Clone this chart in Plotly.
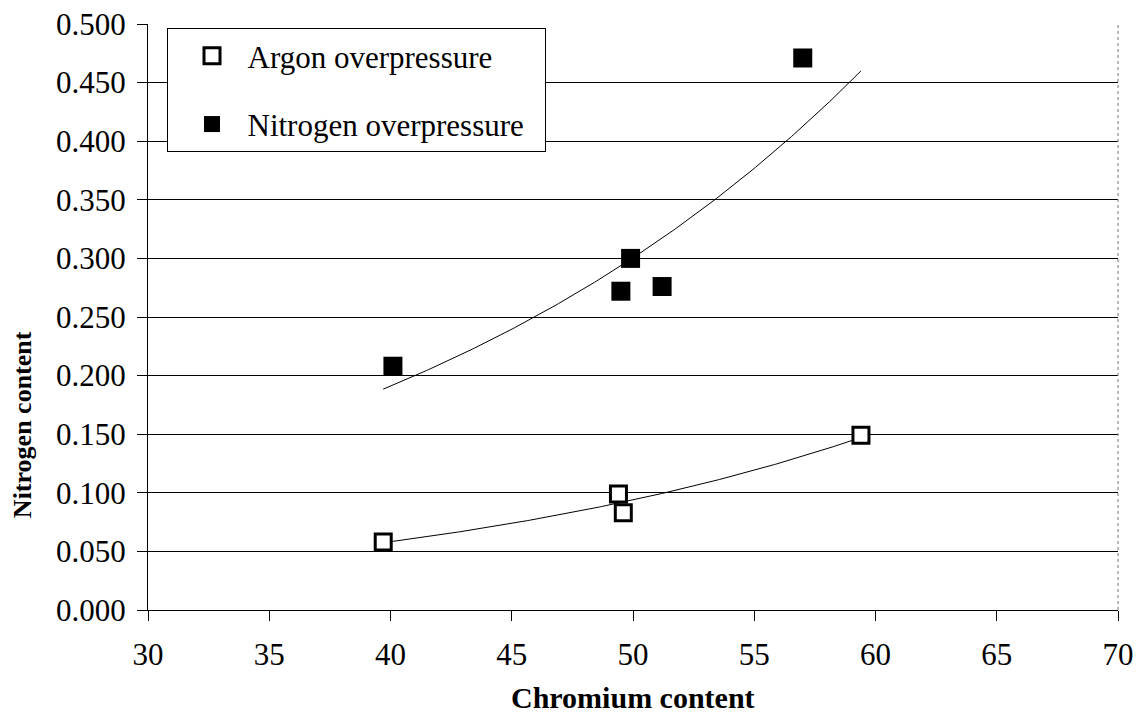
import numpy as np
import plotly.graph_objects as go

# Data
argon_cr = [39.7, 49.4, 49.6, 59.4]
argon_n = [0.058, 0.099, 0.083, 0.149]
nitro_cr = [40.1, 49.9, 49.5, 51.2, 57.0]
nitro_n = [0.208, 0.300, 0.272, 0.276, 0.471]

x_ticks = [30, 35, 40, 45, 50, 55, 60, 65, 70]
y_ticks = [round(0.05 * i, 3) for i in range(11)]

FONT = "Liberation Serif"

# Exponential trendlines (Excel-style), fitted to each series
all_x = argon_cr + nitro_cr
xs = np.linspace(min(all_x), max(all_x), 200)

def exp_fit(x, y, xe):
    b, ln_a = np.polyfit(np.array(x), np.log(np.array(y)), 1)
    return np.exp(ln_a + b * xe)

fig = go.Figure()
fig.add_trace(go.Scatter(x=xs, y=exp_fit(argon_cr, argon_n, xs), mode="lines",
                         line=dict(color="black", width=1), showlegend=False,
                         hoverinfo="skip"))
fig.add_trace(go.Scatter(x=xs, y=exp_fit(nitro_cr, nitro_n, xs), mode="lines",
                         line=dict(color="black", width=1), showlegend=False,
                         hoverinfo="skip"))
fig.add_trace(go.Scatter(x=argon_cr, y=argon_n, mode="markers",
                         name="\u2002Argon overpressure",
                         legendgroup="a",
                         marker=dict(symbol="square", size=16, color="white",
                                     line=dict(color="black", width=3))))
fig.add_trace(go.Scatter(x=nitro_cr, y=nitro_n, mode="markers",
                         name="\u2002Nitrogen overpressure\u2002",
                         legendgroup="n",
                         marker=dict(symbol="square", size=19, color="black",
                                     line=dict(color="black", width=0))))

fig.update_layout(
    width=1136, height=716,
    margin=dict(l=148, r=18, t=24, b=106, autoexpand=False),
    paper_bgcolor="white", plot_bgcolor="white",
    font=dict(family=FONT, color="black", size=31),
    legend=dict(x=0.0196, y=0.993, xanchor="left", yanchor="top",
                bordercolor="black", borderwidth=1, bgcolor="white",
                font=dict(family=FONT, size=31, color="black"),
                tracegroupgap=25, indentation=24),
    xaxis=dict(range=[30, 70], tickvals=x_ticks, ticktext=[str(v) for v in x_ticks],
               showgrid=False, zeroline=False, showline=True, linecolor="black",
               linewidth=1, ticks="outside", ticklen=10, tickcolor="black",
               ticklabelstandoff=7, automargin=False,
               tickfont=dict(family=FONT, size=31, color="black")),
    yaxis=dict(range=[0, 0.5], tickvals=y_ticks, ticktext=[f"{v:.3f}" for v in y_ticks],
               showgrid=True, gridcolor="black", gridwidth=1, zeroline=False,
               showline=True, linecolor="black", linewidth=1,
               ticks="outside", ticklen=10, tickcolor="black",
               ticklabelstandoff=5, automargin=False,
               tickfont=dict(family=FONT, size=31, color="black")),
    shapes=[dict(type="line", xref="paper", yref="paper", x0=1, x1=1, y0=0, y1=1,
                 line=dict(color="#777777", width=1, dash="dot"))],
    annotations=[
        dict(text="<b>Chromium content</b>", xref="paper", yref="paper", x=0.5, y=-0.149,
             xanchor="center", yanchor="middle", showarrow=False,
             font=dict(family=FONT, size=30, color="black")),
        dict(text="<b>Nitrogen content</b>", xref="paper", yref="paper", x=-0.13, y=0.317,
             xanchor="center", yanchor="middle", textangle=-90, showarrow=False,
             font=dict(family=FONT, size=26, color="black")),
    ],
)

fig.write_html("out.html", config={"displayModeBar": False},
               post_script="document.body.style.margin='0';document.body.style.overflow='hidden';")
